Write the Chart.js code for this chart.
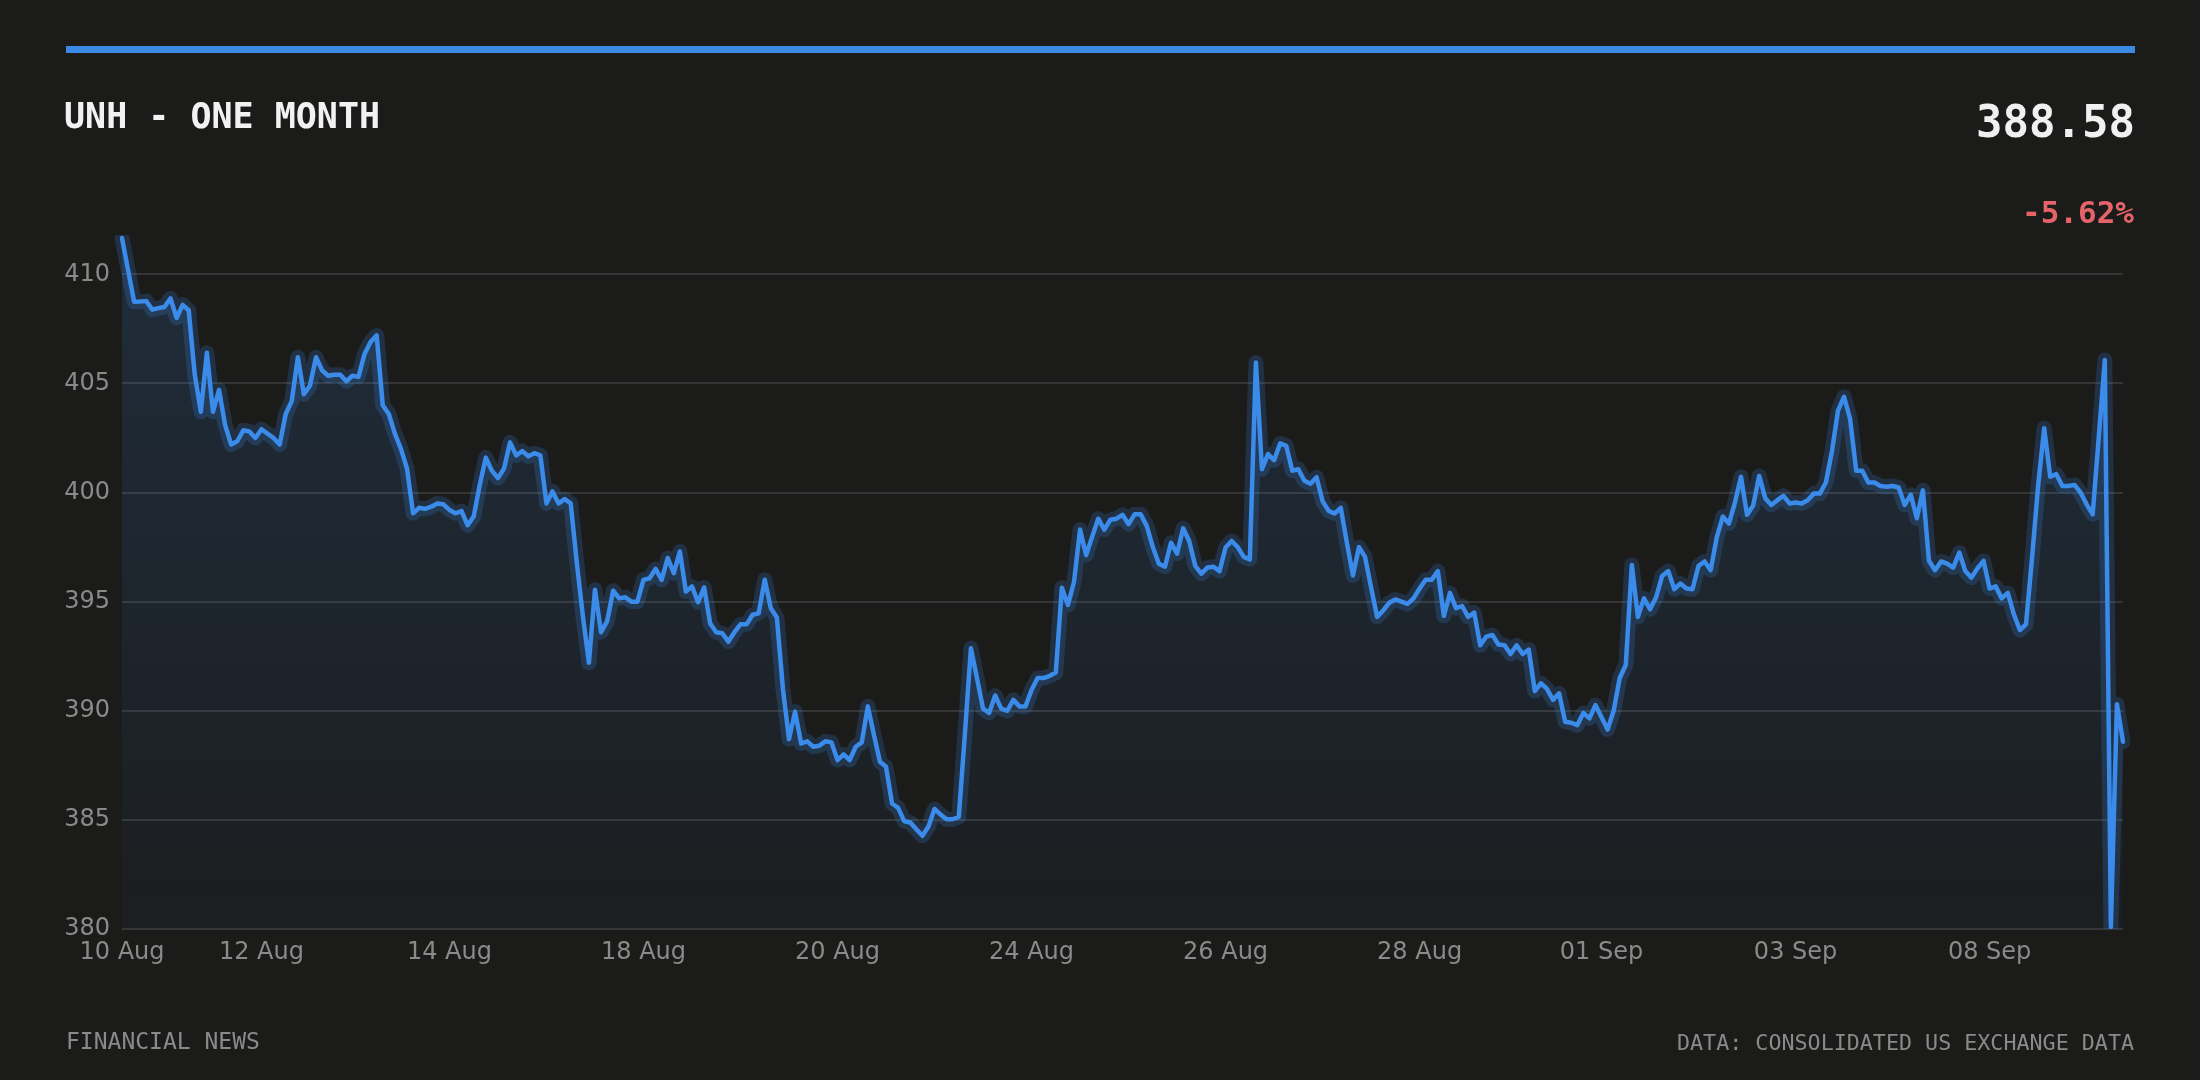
<!DOCTYPE html>
<html>
<head>
<meta charset="utf-8">
<script src="https://cdn.jsdelivr.net/npm/chart.js@4"></script>
<style>
  html, body { margin: 0; padding: 0; background: #1b1b1a; }
  body { width: 2200px; height: 1080px; position: relative; overflow: hidden; }
  canvas { position: absolute; left: 0; top: 0; }
  .txt { position: absolute; font-family: "DejaVu Sans Mono", monospace; line-height: 1; white-space: nowrap; }
  .bar { position: absolute; left: 66px; top: 46px; width: 2069px; height: 7px; background: #3a8ae6; }
  #title { left: 64px; top: 99px; font-size: 35px; font-weight: bold; color: #f2f2f2; }
  #price { right: 65px; top: 100px; font-size: 44px; font-weight: bold; color: #f0f0f0; }
  #change { right: 66px; top: 197px; font-size: 31px; font-weight: bold; color: #e5646a; }
  #source { left: 66px; top: 1030px; font-size: 23px; color: #8a8a8a; }
  #credit { right: 66px; top: 1032px; font-size: 21.7px; color: #8a8a8a; }
</style>
</head>
<body>
<canvas id="chart" width="2200" height="1080"></canvas>
<div class="bar"></div>
<div class="txt" id="title">UNH - ONE MONTH</div>
<div class="txt" id="price">388.58</div>
<div class="txt" id="change">-5.62%</div>
<div class="txt" id="source">FINANCIAL NEWS</div>
<div class="txt" id="credit">DATA: CONSOLIDATED US EXCHANGE DATA</div>
<script>
// price readings, one per sample
const prices = [
  411.66, 410.2, 408.74, 408.75, 408.77, 408.38, 408.45, 408.5, 408.9, 408.0,
  408.6, 408.35, 405.4, 403.7, 406.4, 403.7, 404.7, 403.1, 402.2, 402.35,
  402.85, 402.8, 402.5, 402.9, 402.7, 402.5, 402.2, 403.6, 404.2, 406.2,
  404.5, 404.9, 406.2, 405.6, 405.35, 405.4, 405.4, 405.1, 405.35, 405.3,
  406.35, 406.9, 407.2, 404.0, 403.6, 402.7, 402.0, 401.1, 399.05, 399.3,
  399.25, 399.35, 399.5, 399.46, 399.2, 399.05, 399.15, 398.5, 398.9, 400.35,
  401.6, 401.0, 400.66, 401.1, 402.3, 401.7, 401.9, 401.66, 401.8, 401.7,
  399.5, 400.05, 399.5, 399.7, 399.5, 396.8, 394.35, 392.2, 395.55, 393.6,
  394.1, 395.5, 395.15, 395.2, 395.0, 395.0, 396.0, 396.07, 396.5, 396.0,
  397.0, 396.3, 397.3, 395.46, 395.7, 394.97, 395.65, 394.0, 393.6, 393.55,
  393.17, 393.6, 393.96, 393.96, 394.4, 394.47, 396.0, 394.7, 394.27, 391.0,
  388.7, 389.96, 388.5, 388.6, 388.35, 388.4, 388.6, 388.55, 387.74, 388.0,
  387.74, 388.35, 388.55, 390.2, 388.9, 387.66, 387.43, 385.75, 385.55, 384.94,
  384.88, 384.57, 384.27, 384.7, 385.5, 385.24, 385.03, 385.03, 385.14, 388.9,
  392.86, 391.5, 390.1, 389.9, 390.7, 390.1, 390.0, 390.5, 390.2, 390.2,
  390.95, 391.5, 391.5, 391.6, 391.75, 395.64, 394.85, 395.9, 398.3, 397.14,
  397.98, 398.8, 398.3, 398.75, 398.8, 398.98, 398.55, 399.0, 399.0, 398.47,
  397.5, 396.74, 396.6, 397.7, 397.2, 398.36, 397.78, 396.64, 396.28, 396.56,
  396.6, 396.4, 397.48, 397.78, 397.5, 397.05, 396.94, 405.96, 401.07, 401.76,
  401.48, 402.25, 402.14, 401.0, 401.07, 400.54, 400.4, 400.7, 399.6, 399.16,
  399.04, 399.3, 397.7, 396.2, 397.5, 397.05, 395.64, 394.3, 394.6, 394.95,
  395.1, 395.0, 394.9, 395.15, 395.6, 396.0, 396.0, 396.4, 394.35, 395.4,
  394.7, 394.8, 394.3, 394.5, 393.0, 393.4, 393.47, 393.04, 393.0, 392.6,
  393.0, 392.6, 392.8, 390.9, 391.26, 391.0, 390.5, 390.8, 389.5, 389.45,
  389.34, 389.9, 389.65, 390.26, 389.7, 389.14, 390.0, 391.5, 392.1, 396.68,
  394.3, 395.15, 394.65, 395.2, 396.18, 396.4, 395.57, 395.83, 395.6, 395.57,
  396.64, 396.84, 396.44, 397.94, 398.9, 398.58, 399.54, 400.72, 398.98, 399.4,
  400.76, 399.74, 399.43, 399.65, 399.85, 399.5, 399.54, 399.5, 399.65, 399.95,
  399.95, 400.46, 401.9, 403.75, 404.39, 403.36, 401.0, 401.0, 400.46, 400.46,
  400.3, 400.26, 400.3, 400.23, 399.43, 399.9, 398.82, 400.1, 396.87, 396.44,
  396.84, 396.74, 396.56, 397.25, 396.4, 396.1, 396.53, 396.87, 395.6, 395.7,
  395.15, 395.4, 394.42, 393.7, 393.96, 397.0, 400.3, 402.95, 400.72, 400.84,
  400.3, 400.3, 400.35, 400.0, 399.46, 399.0, 402.52, 406.07, 380.1, 390.3,
  388.58
]

// x axis tick labels and the sample they sit on
const tickLabels = ['10 Aug', '12 Aug', '14 Aug', '18 Aug', '20 Aug', '24 Aug', '26 Aug', '28 Aug', '01 Sep', '03 Sep', '08 Sep']
const tickIndex  = [0, 23, 54, 86, 118, 150, 182, 214, 244, 276, 308]

// y axis range and step
const yMin  = 380
const yMax  = 411.8
const yStep = 5

const labels = prices.map((p, i) => {
    const k = tickIndex.indexOf(i)
    return k >= 0 ? tickLabels[k] : ''
})

const tickFont = { family: 'DejaVu Sans', size: 24 }
const blue = '#3b8beb'

function areaFill(context) {
    const { ctx, chartArea } = context.chart
    if (!chartArea) return 'rgba(59,139,235,0.1)'
    const g = ctx.createLinearGradient(0, chartArea.top, 0, chartArea.bottom)
    g.addColorStop(0, 'rgba(59,139,235,0.16)')
    g.addColorStop(1, 'rgba(59,139,235,0.03)')
    return g
}

const ctx = document.getElementById('chart').getContext('2d')

new Chart(ctx, {
    type: 'line',
    data: {
        labels: labels,
        datasets: [
            {
                data: prices,
                borderColor: blue,
                borderWidth: 4.5,
                borderJoinStyle: 'round',
                borderCapStyle: 'round',
                pointRadius: 0,
                tension: 0,
                fill: 'start',
                backgroundColor: areaFill,
                order: 0
            },
            {
                // soft halo round the line
                data: prices,
                borderColor: 'rgba(59,139,235,0.2)',
                borderWidth: 15,
                borderJoinStyle: 'round',
                borderCapStyle: 'round',
                pointRadius: 0,
                tension: 0,
                fill: false,
                order: 1
            }
        ]
    },
    options: {
        responsive: false,
        animation: false,
        devicePixelRatio: 1,
        layout: { padding: { top: 235, right: 77, bottom: 88, left: 0 } },
        plugins: {
            legend: { display: false },
            tooltip: { enabled: false },
            filler: { drawTime: 'beforeDatasetsDraw' }
        },
        scales: {
            x: {
                grid: { display: false, drawTicks: false },
                border: { display: false },
                ticks: {
                    autoSkip: false,
                    maxRotation: 0,
                    minRotation: 0,
                    padding: 9,
                    color: '#8a8a8a',
                    font: tickFont
                },
                afterFit: function (scale) { scale.height = 63 }
            },
            y: {
                min: yMin,
                max: yMax,
                grid: { color: '#353535', lineWidth: 2, drawTicks: false },
                border: { display: false },
                ticks: {
                    stepSize: yStep,
                    includeBounds: false,
                    padding: 12,
                    color: '#8a8a8a',
                    font: tickFont
                },
                afterFit: function (scale) { scale.width = 122 }
            }
        }
    }
})
</script>
</body>
</html>
